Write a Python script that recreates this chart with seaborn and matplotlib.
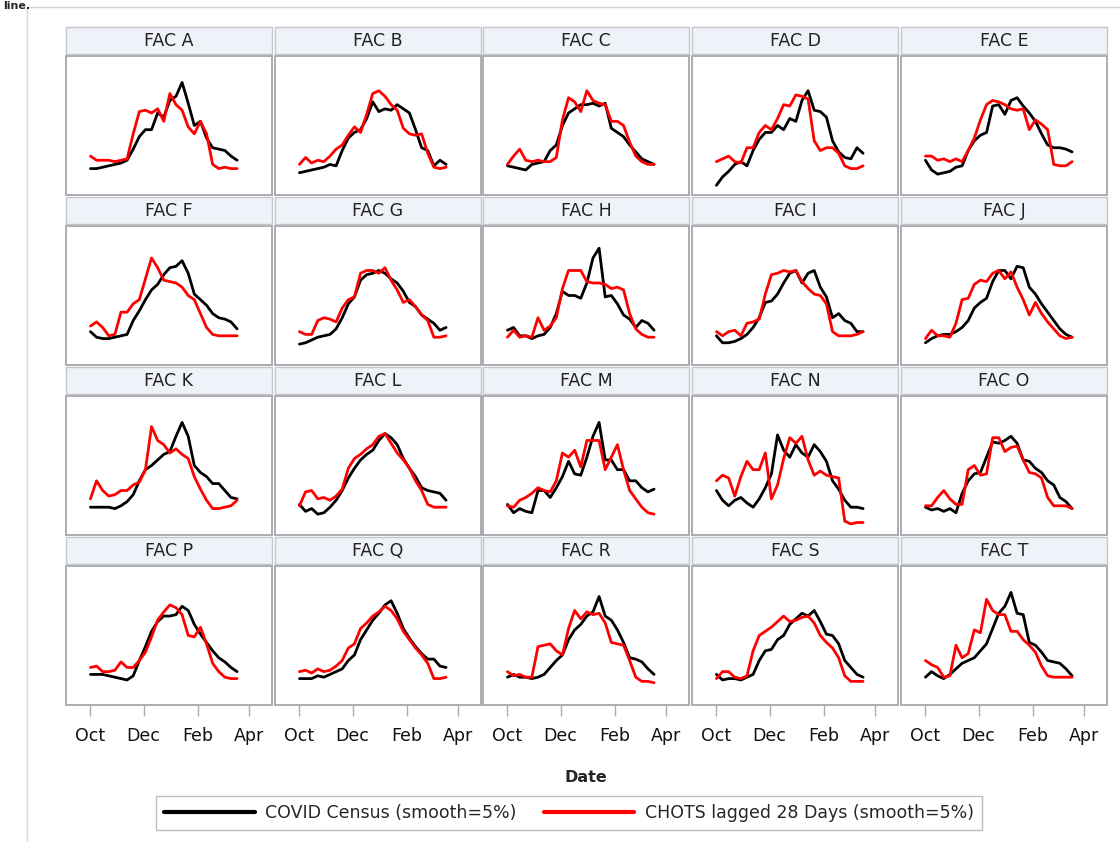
import numpy as np
import pandas as pd
import matplotlib.pyplot as plt
import seaborn as sns
from matplotlib.patches import Rectangle
from matplotlib.lines import Line2D
import matplotlib.dates as mdates

# weekly samples, Oct 1 -> Mar 18 (values in % of panel height)
dates = pd.date_range("2021-10-01", periods=25, freq="7D")
facs = ["FAC " + c for c in "ABCDEFGHIJKLMNOPQRST"]

census_a = [19, 19, 20, 21, 22, 23, 25, 33, 42, 47, 47, 59, 56, 68, 71, 81, 66, 50, 53, 41, 34, 33, 32, 28, 25]
chots_a = [28, 25, 25, 25, 24, 25, 26, 44, 60, 61, 59, 62, 53, 73, 65, 61, 49, 44, 53, 44, 22, 19, 20, 19, 19]
census_b = [16, 17, 18, 19, 20, 22, 21, 32, 41, 45, 47, 55, 67, 60, 62, 61, 65, 62, 59, 47, 34, 32, 21, 25, 22]
chots_b = [22, 27, 23, 25, 24, 28, 33, 36, 43, 49, 45, 58, 73, 75, 71, 65, 61, 48, 44, 43, 44, 30, 20, 19, 20]
census_c = [21, 20, 19, 18, 22, 23, 24, 32, 36, 50, 59, 62, 65, 65, 66, 64, 66, 48, 45, 42, 36, 31, 26, 24, 22]
chots_c = [22, 28, 33, 25, 24, 25, 24, 24, 27, 54, 70, 67, 60, 75, 68, 66, 65, 53, 53, 50, 38, 28, 24, 22, 22]
census_d = [7, 13, 17, 22, 24, 21, 32, 40, 45, 45, 50, 47, 55, 53, 68, 75, 61, 60, 56, 39, 31, 27, 26, 34, 30]
chots_d = [24, 26, 28, 24, 23, 34, 34, 45, 50, 47, 55, 65, 64, 72, 71, 69, 39, 32, 34, 34, 30, 21, 19, 19, 21]
census_e = [25, 18, 15, 16, 17, 20, 21, 32, 39, 43, 45, 64, 65, 58, 68, 70, 64, 59, 53, 44, 36, 34, 34, 33, 31]
chots_e = [28, 28, 25, 26, 24, 26, 24, 32, 41, 54, 65, 68, 67, 65, 62, 61, 62, 47, 54, 51, 47, 22, 21, 21, 24]
census_f = [24, 20, 19, 19, 20, 21, 22, 32, 39, 47, 54, 58, 65, 70, 71, 75, 66, 51, 47, 43, 37, 34, 33, 31, 26]
chots_f = [28, 31, 27, 21, 22, 38, 38, 44, 47, 62, 77, 70, 61, 60, 59, 56, 50, 47, 37, 27, 22, 21, 21, 21, 21]
census_g = [15, 16, 18, 20, 21, 22, 26, 34, 44, 49, 61, 65, 66, 68, 66, 62, 59, 53, 45, 42, 36, 33, 30, 25, 27]
chots_g = [24, 22, 22, 32, 34, 33, 31, 41, 47, 49, 66, 68, 68, 66, 70, 61, 54, 45, 47, 42, 36, 32, 20, 20, 21]
census_h = [25, 27, 21, 21, 19, 21, 22, 27, 37, 53, 50, 50, 48, 59, 77, 84, 49, 50, 44, 36, 33, 27, 32, 30, 25]
chots_h = [20, 25, 20, 21, 20, 34, 25, 28, 34, 55, 68, 68, 68, 60, 59, 59, 58, 55, 56, 54, 37, 26, 22, 20, 20]
census_i = [21, 16, 16, 17, 19, 22, 27, 34, 45, 46, 51, 59, 66, 68, 59, 66, 68, 56, 49, 34, 37, 32, 30, 24, 24]
chots_i = [24, 21, 24, 25, 21, 30, 31, 33, 51, 65, 66, 68, 67, 68, 60, 55, 51, 50, 44, 24, 21, 21, 21, 22, 24]
census_j = [16, 19, 21, 22, 22, 24, 27, 32, 41, 45, 48, 60, 68, 68, 62, 71, 70, 56, 51, 44, 38, 32, 26, 22, 20]
chots_j = [19, 25, 21, 21, 20, 30, 47, 48, 58, 61, 60, 66, 68, 62, 67, 56, 47, 36, 45, 37, 31, 26, 21, 19, 20]
census_k = [20, 20, 20, 20, 19, 21, 24, 29, 39, 47, 50, 54, 58, 60, 71, 81, 71, 50, 45, 42, 37, 37, 32, 27, 26]
chots_k = [26, 39, 32, 28, 29, 32, 32, 36, 38, 47, 78, 68, 65, 59, 62, 58, 55, 42, 33, 25, 19, 19, 20, 21, 25]
census_l = [22, 17, 19, 15, 16, 20, 25, 32, 41, 48, 54, 58, 61, 68, 73, 70, 65, 55, 48, 42, 34, 32, 31, 30, 25]
chots_l = [21, 31, 32, 26, 27, 25, 28, 33, 48, 55, 58, 62, 65, 71, 73, 66, 59, 54, 48, 39, 32, 22, 20, 20, 20]
census_m = [22, 16, 19, 17, 16, 32, 32, 27, 34, 42, 53, 44, 43, 56, 71, 81, 54, 54, 47, 47, 39, 39, 34, 31, 33]
chots_m = [21, 20, 25, 27, 30, 34, 32, 31, 39, 59, 56, 61, 49, 68, 68, 68, 47, 56, 65, 47, 32, 26, 20, 16, 15]
census_n = [32, 25, 21, 25, 27, 23, 20, 26, 34, 44, 72, 61, 56, 65, 59, 56, 65, 60, 53, 39, 33, 25, 20, 20, 19]
chots_n = [39, 43, 41, 28, 42, 53, 47, 47, 59, 26, 36, 55, 70, 66, 71, 54, 43, 46, 43, 42, 41, 10, 8, 9, 9]
census_o = [20, 18, 19, 17, 19, 16, 30, 39, 44, 45, 56, 67, 66, 68, 71, 66, 54, 53, 48, 45, 39, 36, 27, 24, 19]
chots_o = [21, 21, 27, 32, 26, 22, 22, 47, 50, 43, 44, 70, 70, 60, 63, 64, 54, 45, 44, 41, 27, 21, 21, 21, 19]
census_p = [22, 22, 22, 21, 20, 19, 18, 21, 32, 42, 53, 60, 64, 64, 65, 71, 68, 58, 51, 45, 39, 34, 31, 27, 24]
chots_p = [27, 28, 24, 24, 25, 31, 27, 27, 32, 38, 49, 61, 67, 72, 70, 65, 50, 49, 56, 44, 30, 24, 20, 19, 19]
census_q = [19, 19, 19, 21, 20, 22, 24, 26, 32, 36, 47, 54, 61, 66, 72, 75, 66, 55, 48, 42, 37, 33, 33, 28, 27]
chots_q = [24, 25, 23, 26, 24, 25, 28, 32, 41, 44, 55, 59, 64, 67, 71, 68, 62, 53, 47, 41, 36, 30, 19, 19, 20]
census_r = [20, 22, 20, 20, 19, 20, 22, 27, 32, 36, 47, 54, 58, 64, 67, 78, 64, 61, 54, 45, 34, 33, 31, 26, 22]
chots_r = [24, 21, 22, 20, 20, 42, 43, 44, 39, 36, 55, 68, 62, 67, 65, 66, 59, 45, 44, 43, 32, 20, 17, 17, 16]
census_s = [22, 18, 19, 19, 18, 20, 22, 32, 39, 40, 47, 50, 58, 62, 66, 64, 68, 60, 51, 50, 44, 32, 27, 22, 20]
chots_s = [19, 24, 24, 20, 19, 21, 39, 50, 53, 56, 60, 64, 60, 61, 63, 64, 59, 50, 45, 41, 34, 21, 17, 17, 17]
census_t = [20, 24, 21, 19, 22, 26, 30, 32, 34, 39, 44, 55, 66, 71, 81, 66, 65, 45, 43, 38, 32, 31, 30, 26, 21]
chots_t = [32, 29, 27, 20, 21, 43, 34, 37, 54, 52, 76, 68, 65, 65, 53, 53, 47, 43, 38, 28, 21, 20, 20, 20, 20]

census = [census_a, census_b, census_c, census_d, census_e, census_f, census_g, census_h, census_i, census_j,
          census_k, census_l, census_m, census_n, census_o, census_p, census_q, census_r, census_s, census_t]
chots = [chots_a, chots_b, chots_c, chots_d, chots_e, chots_f, chots_g, chots_h, chots_i, chots_j,
         chots_k, chots_l, chots_m, chots_n, chots_o, chots_p, chots_q, chots_r, chots_s, chots_t]

lab_census = "COVID Census (smooth=5%)"
lab_chots = "CHOTS lagged 28 Days (smooth=5%)"

# long table for seaborn
rows = []
for fac, cen, cho in zip(facs, census, chots):
    for d, v in zip(dates, cen):
        rows.append((fac, d, lab_census, v))
    for d, v in zip(dates, cho):
        rows.append((fac, d, lab_chots, v))
df = pd.DataFrame(rows, columns=["fac", "date", "series", "value"])

sns.set_style("white")
plt.rcParams["font.family"] = ["DejaVu Sans"]

g = sns.relplot(data=df, x="date", y="value", hue="series", col="fac", col_wrap=5,
                kind="line", palette={lab_census: "black", lab_chots: "red"},
                hue_order=[lab_census, lab_chots], linewidth=2, legend=False,
                height=1.5, aspect=1.4, facet_kws=dict(sharex=True, sharey=True))
fig = g.figure
fig.set_size_inches(11.2, 8.42)
W, H = 1120.0, 842.0

col_left = [66, 275, 483, 692, 901]
pw, ph = 206, 139
frame_col = "#a9adb2"
ticks = pd.to_datetime(["2021-10-01", "2021-12-01", "2022-02-01", "2022-04-01"])

for i, ax in enumerate(g.axes.flat):
    r, c = divmod(i, 5)
    top = 56 + 170 * r
    ax.set_position([col_left[c] / W, 1 - (top + ph) / H, pw / W, ph / H])
    ax.set_xlim(pd.Timestamp("2021-09-03"), pd.Timestamp("2022-04-27"))
    ax.set_ylim(0, 100)
    ax.set_yticks([])
    ax.set_xticks(ticks)
    ax.xaxis.set_major_formatter(mdates.DateFormatter("%b"))
    ax.set_title("")
    ax.set_xlabel("")
    ax.set_ylabel("")
    for sp in ax.spines.values():
        sp.set_visible(True)
        sp.set_color(frame_col)
        sp.set_linewidth(1.4)
    if r == 3:
        ax.tick_params(axis="x", bottom=True, length=8, width=1, color=frame_col,
                       labelsize=12.5, pad=8, labelbottom=True, labelcolor="#111111")
    else:
        ax.tick_params(axis="x", bottom=False, labelbottom=False)

    # header strip
    htop = 27 + 170 * r
    fig.add_artist(Rectangle((col_left[c] / W, 1 - (htop + 27) / H), pw / W, 27 / H,
                             transform=fig.transFigure, facecolor="#f0f2f9",
                             edgecolor="#c3c6cb", linewidth=1))
    fig.text((col_left[c] + pw / 2) / W, 1 - (htop + 14) / H, facs[i],
             ha="center", va="center", fontsize=12.5, color="#222222")

fig.text(586 / W, 1 - 778 / H, "Date", ha="center", va="center",
         fontsize=11.5, fontweight="bold")

handles = [Line2D([], [], color="black", linewidth=3),
           Line2D([], [], color="red", linewidth=3)]
leg = fig.legend(handles, [lab_census, lab_chots], loc="center",
                 bbox_to_anchor=(569 / W, 1 - 813 / H), ncol=2, frameon=True,
                 fancybox=False, fontsize=12.5, handlelength=5.2, columnspacing=1.6,
                 handletextpad=0.6, borderpad=0.45)
leg.get_frame().set_edgecolor("#a9adb2")
leg.get_frame().set_linewidth(1)

# outer frame of the page and the text above it
fig.add_artist(Line2D([27 / W, 27 / W], [0, 1 - 7 / H], transform=fig.transFigure,
                      color="#d4d6d8", linewidth=1))
fig.add_artist(Line2D([27 / W, 1], [1 - 7 / H, 1 - 7 / H], transform=fig.transFigure,
                      color="#d4d6d8", linewidth=1))
fig.text(3 / W, 1 - 1 / H, "line.", ha="left", va="top", fontsize=8, fontweight="bold")

fig.savefig("out.png", dpi=100)
